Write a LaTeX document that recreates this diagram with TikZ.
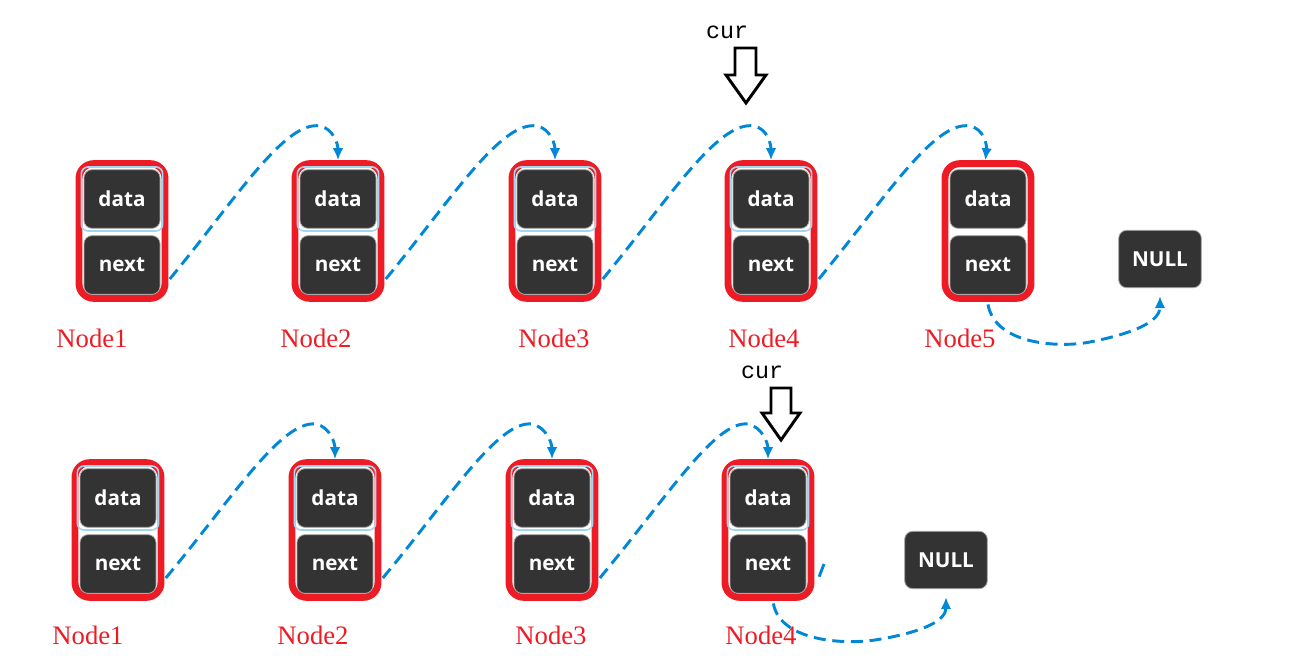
\documentclass[tikz,border=0pt]{standalone}
\usepackage{fontspec}
\usetikzlibrary{arrows.meta,calc}
\newfontfamily\cellfont{Open Sans}
\newfontfamily\labelfont{Liberation Serif}
\newfontfamily\curfont{Liberation Mono}
\definecolor{nodered}{RGB}{237,28,36}
\definecolor{cellgray}{RGB}{51,51,51}
\definecolor{linkblue}{RGB}{0,136,214}
\definecolor{paleblue}{RGB}{160,215,245}
\tikzset{
  cellbox/.style={fill=cellgray, draw=gray!70, line width=0.6pt, rounded corners=6pt,
    minimum width=57pt, minimum height=44pt, text=white, inner sep=0pt,
    font=\cellfont\bfseries\fontsize{15.5}{15.5}\selectfont},
  glowbox/.style={draw=paleblue, line width=1.2pt, rounded corners=5pt,
    minimum width=61pt, minimum height=48pt, inner sep=0pt},
  redframe/.style={draw=nodered, line width=5.2pt, rounded corners=11pt,
    minimum width=64.5pt, minimum height=101pt, inner sep=0pt},
  nodelabel/.style={text=nodered, font=\labelfont\fontsize{20}{20}\selectfont, inner sep=0pt},
  curlabel/.style={text=black, font=\curfont\fontsize{17.5}{17.5}\selectfont, inner sep=0pt},
  link/.style={draw=linkblue, line width=2.2pt, dash pattern=on 9pt off 5pt,
    -{Latex[length=9pt,width=8pt]}},
  curarrow/.style={draw=black, line width=2.2pt, fill=white, line join=miter},
}
\newcommand\listcell[4]{% name, cx, cy (frame centre), glow?(1/0)
  \node[redframe] (#1) at (#2,#3) {};
  \ifnum#4=1 \node[glowbox] at (#2,#3-32) {};\fi
  \node[cellbox] (#1d) at (#2,#3-32) {data};
  \node[cellbox] (#1n) at (#2,#3+34) {next};
}
\begin{document}
\begin{tikzpicture}[x=0.75pt,y=-0.75pt]
\useasboundingbox (0,0) rectangle (1299,659);
% ---------- top row ----------
\listcell{a1}{122}{231}{1}
\listcell{a2}{338}{231}{1}
\listcell{a3}{555}{231}{1}
\listcell{a4}{771}{231}{1}
\listcell{a5}{988}{231}{0}
\node[cellbox, minimum width=62pt, minimum height=43pt] (anull) at (1160,259) {NULL};
\node[nodelabel] (la1) at (92,338) {Node1};
\node[nodelabel] (la2) at (316,338) {Node2};
\node[nodelabel] (la3) at (554,338) {Node3};
\node[nodelabel] (la4) at (764,338) {Node4};
\node[nodelabel] (la5) at (960,338) {Node5};
\node[curlabel] (cura) at (727,32) {cur};
\draw[curarrow] (735,48) -- (756,48) -- (756,75) -- (766,75) -- (746,103) -- (726,75) -- (735,75) -- cycle;
% top links
\draw[link] ([xshift=1pt,yshift=-36pt]a1.east) .. controls (235,200) and (285,120) .. (320,126)
  .. controls (334,129) and (338,145) .. (a2.north);
\draw[link] ([xshift=1pt,yshift=-36pt]a2.east) .. controls (451,200) and (501,120) .. (537,126)
  .. controls (551,129) and (555,145) .. (a3.north);
\draw[link] ([xshift=1pt,yshift=-36pt]a3.east) .. controls (668,200) and (718,120) .. (754,126)
  .. controls (768,129) and (771,145) .. (a4.north);
\draw[link] ([xshift=1pt,yshift=-36pt]a4.east) .. controls (884,200) and (934,120) .. (970,126)
  .. controls (984,129) and (987,145) .. ([xshift=-2pt]a5.north);
\draw[link] ([yshift=-2pt]a5.south) .. controls (995,345) and (1060,348) .. (1090,342)
  .. controls (1140,332) and (1160,320) .. ([yshift=-6pt]anull.south);
% ---------- bottom row ----------
\listcell{b1}{118}{530}{1}
\listcell{b2}{335}{530}{1}
\listcell{b3}{552}{530}{1}
\listcell{b4}{768}{530}{1}
\node[cellbox, minimum width=62pt, minimum height=43pt] (bnull) at (946,560) {NULL};
\node[nodelabel] (lb1) at (88,635) {Node1};
\node[nodelabel] (lb2) at (313,635) {Node2};
\node[nodelabel] (lb3) at (551,635) {Node3};
\node[nodelabel] (lb4) at (761,635) {Node4};
\node[curlabel] (curb) at (762,372) {cur};
\draw[curarrow] (771,388) -- (791,388) -- (791,413) -- (800,413) -- (781,440) -- (762,413) -- (771,413) -- cycle;
% bottom links
\draw[link] ([xshift=1pt,yshift=-36pt]b1.east) .. controls (231,500) and (281,420) .. (316,424)
  .. controls (330,427) and (335,443) .. (b2.north);
\draw[link] ([xshift=1pt,yshift=-36pt]b2.east) .. controls (448,500) and (498,420) .. (532,424)
  .. controls (546,427) and (552,443) .. (b3.north);
\draw[link] ([xshift=1pt,yshift=-36pt]b3.east) .. controls (665,500) and (715,420) .. (748,424)
  .. controls (762,427) and (768,443) .. (b4.north);
\coordinate (stub) at (824,564);
\draw[draw=linkblue, line width=2.2pt] ([xshift=3.5pt,yshift=-35pt]b4.east) -- (stub);
\draw[link] ([xshift=4pt,yshift=-2pt]b4.south) .. controls (780,640) and (840,645) .. (875,640)
  .. controls (925,632) and (946,620) .. ([yshift=-6pt]bnull.south);
\end{tikzpicture}
\end{document}
